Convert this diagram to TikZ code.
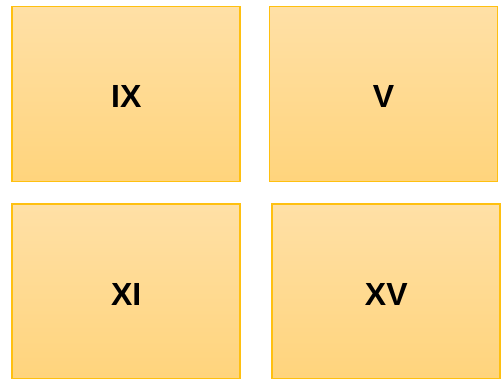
\documentclass[tikz,border=0pt]{standalone}
\usepackage{fontspec}
\setmainfont{Liberation Sans}
\definecolor{boxtop}{HTML}{FFE0A6}
\definecolor{boxbot}{HTML}{FFD47C}
\definecolor{boxline}{HTML}{FFC010}
\tikzset{
  card/.style={draw=boxline, line width=1.6pt, top color=boxtop, bottom color=boxbot, minimum width=228pt, minimum height=175pt, inner sep=0pt, font=\bfseries\fontsize{32}{32}\selectfont}
}
\newcommand{\cardtext}[1]{\raisebox{-14pt}[0pt][0pt]{#1}}
\begin{document}
\begin{tikzpicture}[x=1pt,y=1pt]
\useasboundingbox (0,0) rectangle (501,-379);
\node[card] (ix) at (126.25,-94) {\cardtext{IX}};
\node[card] (v) at (383.5,-94) {\cardtext{V}};
\node[card] (xi) at (126.25,-291.5) {\cardtext{XI}};
\node[card] (xv) at (386.25,-291.5) {\cardtext{XV}};
\end{tikzpicture}
\end{document}
